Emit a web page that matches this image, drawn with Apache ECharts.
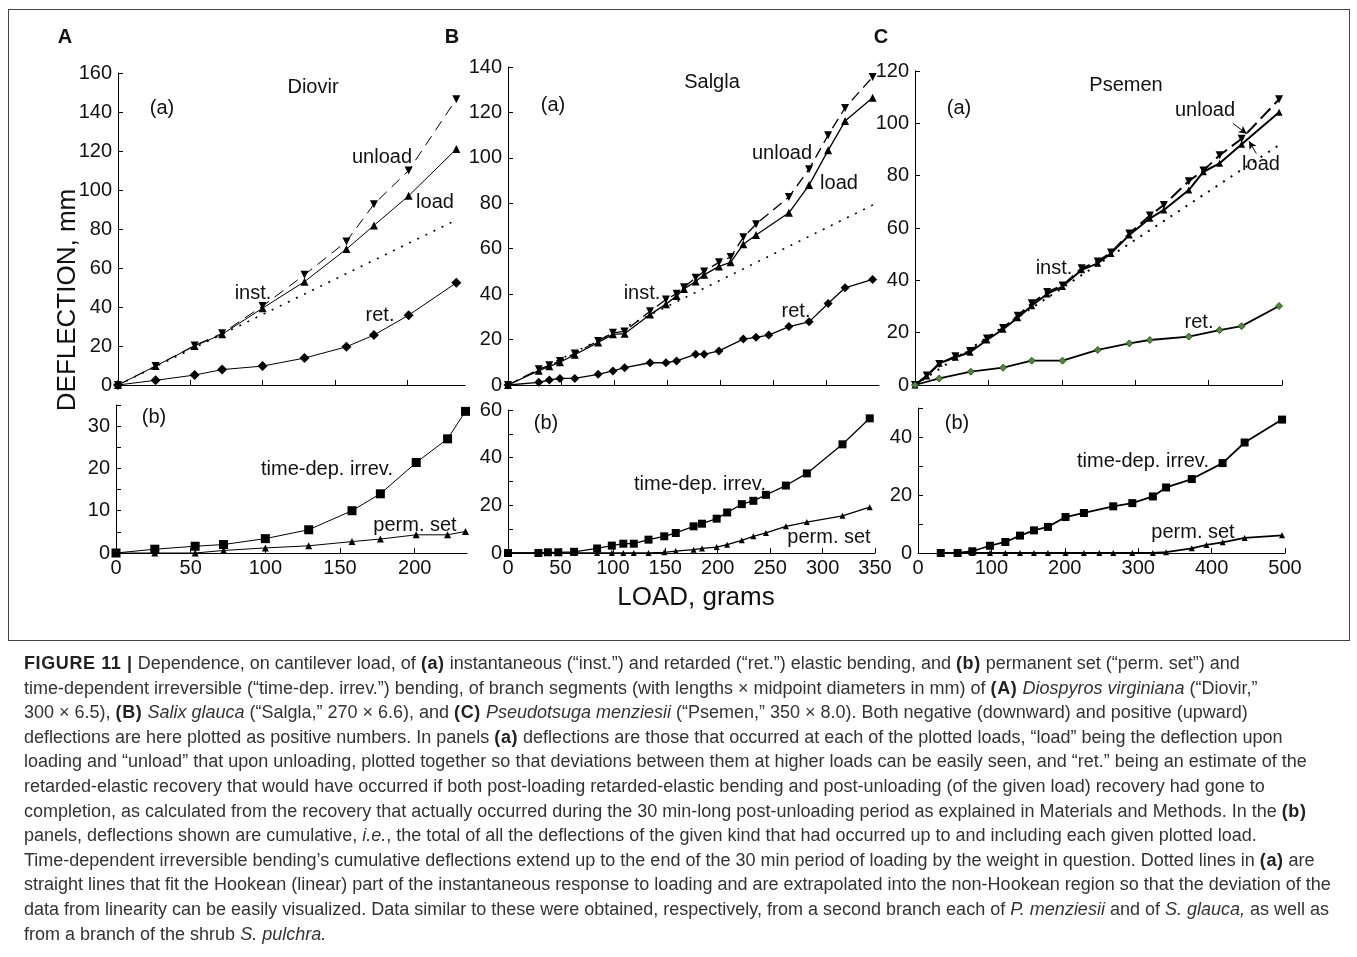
<!DOCTYPE html>
<html>
<head>
<meta charset="utf-8">
<script src="https://cdn.jsdelivr.net/npm/echarts@6/dist/echarts.min.js"></script>
<style>
  html, body { margin: 0; padding: 0; background: #fff; }
  #wrap { position: relative; width: 1357px; height: 957px; }
  #chart { position: absolute; left: 0; top: 0; width: 1357px; height: 957px; }
  #frame { position: absolute; left: 8px; top: 9px; width: 1340px; height: 630px; border: 1px solid #444; }
  #caption {
    position: absolute; left: 24px; top: 651px;
    font-family: "Liberation Sans", Arial, sans-serif; font-size: 18px; line-height: 24.6px;
    color: #333; white-space: nowrap;
  }
  #caption b { color: #222; letter-spacing: 0.6px; }
</style>
</head>
<body>
<div id="wrap">
  <div id="frame"></div>
  <div id="chart"></div>
  <div id="caption">
    <b>FIGURE 11 |</b> Dependence, on cantilever load, of <b>(a)</b> instantaneous (“inst.”) and retarded (“ret.”) elastic bending, and <b>(b)</b> permanent set (“perm. set”) and<br>
    time-dependent irreversible (“time-dep. irrev.”) bending, of branch segments (with lengths × midpoint diameters in mm) of <b>(A)</b> <i>Diospyros virginiana</i> (“Diovir,”<br>
    300 × 6.5), <b>(B)</b> <i>Salix glauca</i> (“Salgla,” 270 × 6.6), and <b>(C)</b> <i>Pseudotsuga menziesii</i> (“Psemen,” 350 × 8.0). Both negative (downward) and positive (upward)<br>
    deflections are here plotted as positive numbers. In panels <b>(a)</b> deflections are those that occurred at each of the plotted loads, “load” being the deflection upon<br>
    loading and “unload” that upon unloading, plotted together so that deviations between them at higher loads can be easily seen, and “ret.” being an estimate of the<br>
    retarded-elastic recovery that would have occurred if both post-loading retarded-elastic bending and post-unloading (of the given load) recovery had gone to<br>
    completion, as calculated from the recovery that actually occurred during the 30 min-long post-unloading period as explained in Materials and Methods. In the <b>(b)</b><br>
    panels, deflections shown are cumulative, <i>i.e.</i>, the total of all the deflections of the given kind that had occurred up to and including each given plotted load.<br>
    Time-dependent irreversible bending’s cumulative deflections extend up to the end of the 30 min period of loading by the weight in question. Dotted lines in <b>(a)</b> are<br>
    straight lines that fit the Hookean (linear) part of the instantaneous response to loading and are extrapolated into the non-Hookean region so that the deviation of the<br>
    data from linearity can be easily visualized. Data similar to these were obtained, respectively, from a second branch each of <i>P. menziesii</i> and of <i>S. glauca,</i> as well as<br>
    from a branch of the shrub <i>S. pulchra.</i>
  </div>
</div>
<script>
// ---- A: Diovir ----
const aLoads = [0, 26, 53, 72, 100, 129, 158, 177, 201, 234];
const aLoad = [0, 9.7, 20, 26, 39.4, 53, 69.7, 81.8, 97, 121];
const aUnload = [0, 9.7, 20.3, 26.5, 40.5, 56.5, 73.6, 92.7, 110, 146.6];
const aRet = [0, 2.4, 5.1, 7.9, 9.7, 13.8, 19.6, 25.6, 35.8, 52.4];
const aFitX = [0, 234];
const aFitY = [0, 84.6];
const aBotLoads = [0, 26, 53, 72, 100, 129, 158, 177, 201, 222, 234];
const aIrrev = [0, 0.9, 1.6, 2.0, 3.4, 5.5, 10, 14, 21.4, 27, 33.5];
const aPerm = [0, 0, 0, 0.6, 1.2, 1.7, 2.7, 3.3, 4.3, 4.3, 5.1];

// ---- B: Salgla ----
const bLoads = [0, 29, 39, 49, 63, 85, 99, 110, 134, 149, 159, 166, 177, 185, 199, 210, 222, 234, 265, 284, 302, 318, 344];
const bLoad = [0, 6.3, 8.2, 10, 13.3, 18.7, 22.3, 22.6, 31, 35.6, 39.2, 42.3, 45.6, 48.5, 52.2, 54, 62, 66, 75.8, 88, 103.3, 116.2, 126.5];
const bUnload = [0, 6.9, 8.7, 10.6, 13.9, 19.4, 23, 23.6, 32.5, 37.6, 40.2, 43, 47.2, 50, 54, 56.3, 65, 70.8, 82.8, 95, 110, 122, 135.6];
const bRetLoads = [0, 29, 39, 49, 63, 85, 99, 110, 134, 149, 159, 177, 185, 199, 222, 234, 246, 265, 284, 302, 318, 344];
const bRet = [0, 1.2, 2.2, 2.9, 2.9, 4.7, 6.2, 7.6, 9.8, 9.8, 10.6, 13.5, 13.5, 15, 20.2, 21, 22, 25.7, 27.8, 35.9, 42.8, 46.5];
const bFitX = [0, 350];
const bFitY = [0, 80.6];
const bBotLoads = [0, 29, 38, 48, 63, 85, 99, 110, 120, 134, 149, 160, 177, 185, 199, 209, 223, 234, 246, 265, 285, 319, 345];
const bIrrev = [0, 0, 0.3, 0.3, 0.5, 1.9, 3.1, 3.9, 3.9, 5.6, 7, 8.4, 11.2, 12.3, 14.4, 17, 20.5, 21.9, 24.4, 28.3, 33.4, 45.6, 56.5];
const bPerm = [0, 0, 0, 0, 0, 0, 0, 0, 0, 0, 0.3, 0.8, 1.4, 1.9, 2.5, 3.5, 5.3, 7, 8.4, 11.2, 13, 15.6, 19.2];

// ---- C: Psemen ----
const cLoads = [0, 16, 33, 55, 75, 98, 120, 140, 159, 180, 201, 227, 249, 267, 292, 320, 339, 373, 393, 415, 445, 496];
const cLoad = [0, 3.4, 8.3, 10.6, 12.5, 17.2, 21.3, 25.7, 30.3, 34.8, 37.6, 44, 46.5, 50.3, 57.3, 63.7, 66.9, 74.5, 81.5, 84.7, 92, 104.2];
const cUnload = [0, 3.6, 8, 11, 13, 17.8, 21.8, 26.5, 31.2, 35.5, 38, 44.6, 47.2, 50.6, 57.9, 64.8, 68.8, 77.9, 82, 87.8, 94.1, 109.2];
const cRetLoads = [0, 33, 76, 120, 159, 201, 249, 292, 320, 373, 415, 445, 496];
const cRet = [0, 2.5, 5.1, 6.6, 9.3, 9.3, 13.4, 15.9, 17.2, 18.5, 21, 22.5, 30.2];
const cFitX = [0, 496];
const cFitY = [0, 91.7];
const cBotLoads = [31, 54, 74, 98, 119, 139, 158, 177, 201, 226, 266, 292, 320, 338, 373, 415, 445, 496];
const cIrrev = [0, 0, 0.6, 2.5, 3.8, 6, 7.8, 9, 12.4, 13.8, 16.1, 17.2, 19.5, 22.6, 25.5, 31, 38.1, 46];
const cPermLoads = [31, 54, 74, 98, 119, 139, 158, 177, 201, 226, 247, 266, 292, 320, 338, 373, 393, 415, 445, 496];
const cPerm = [0, 0, 0, 0, 0, 0, 0, 0, 0, 0, 0, 0, 0, 0, 0.3, 1.6, 2.8, 3.7, 5.2, 6.1];
// arrows pointing from "unload"/"load" labels to the curves (data coords)
const cArrows = [[[433, 100], [452, 96]], [[465, 88.5], [455, 93.2]]];

const FONT = '"Liberation Sans", Arial, sans-serif';

function zip(xs, ys) {
  return xs.map((x, i) => [x, ys[i]]);
}

function line(idx, xs, ys, o) {
  return {
    type: 'line',
    xAxisIndex: idx,
    yAxisIndex: idx,
    data: zip(xs, ys),
    symbol: o.symbol || 'none',
    showSymbol: !!o.symbol,
    symbolSize: o.size || 8,
    symbolRotate: o.rotate || 0,
    itemStyle: o.item || { color: '#000' },
    lineStyle: { color: '#000', width: o.width || 1, type: o.dash || 'solid' },
    z: o.z || 2,
    silent: true
  };
}

// x axes: top panels have no labels, bottom panels have labels
function xAxis(idx, max, ticks, labels) {
  return {
    type: 'value', gridIndex: idx, min: 0, max: max,
    axisLine: { lineStyle: { color: '#000', width: 1 } },
    axisTick: { inside: true, length: 5, customValues: ticks, lineStyle: { color: '#000' } },
    axisLabel: labels
      ? { customValues: ticks, fontSize: 20, color: '#111', fontFamily: FONT, margin: 5 }
      : { show: false },
    splitLine: { show: false }
  };
}

function yAxis(idx, max, ticks, labels) {
  return {
    type: 'value', gridIndex: idx, min: 0, max: max,
    axisLine: { show: true, lineStyle: { color: '#000', width: 1 } },
    axisTick: { show: true, inside: true, length: 5, customValues: ticks, lineStyle: { color: '#000' } },
    axisLabel: { customValues: labels, fontSize: 20, color: '#111', fontFamily: FONT, margin: 6 },
    splitLine: { show: false }
  };
}

function txt(t, x, y, size, weight) {
  return {
    type: 'text', x: x, y: y, silent: true,
    style: { text: t, font: (weight || 'normal') + ' ' + (size || 20) + 'px ' + FONT, fill: '#111', align: 'center', verticalAlign: 'middle' }
  };
}

const chart = echarts.init(document.getElementById('chart'));

const option = {
  animation: false,
  grid: [
    { left: 118, top: 73, width: 347, height: 312 },
    { left: 116, top: 405, width: 351, height: 148 },
    { left: 508, top: 67, width: 371, height: 318 },
    { left: 508, top: 410, width: 367, height: 143 },
    { left: 915, top: 71, width: 367, height: 314 },
    { left: 918, top: 408, width: 367, height: 145 }
  ],
  xAxis: [
    xAxis(0, 240, [50, 100, 150, 200], false),
    xAxis(1, 235, [0, 50, 100, 150, 200], true),
    xAxis(2, 350, [50, 100, 150, 200, 250, 300], false),
    xAxis(3, 350, [0, 50, 100, 150, 200, 250, 300, 350], true),
    xAxis(4, 500, [100, 200, 300, 400, 500], false),
    xAxis(5, 500, [0, 100, 200, 300, 400, 500], true)
  ],
  yAxis: [
    yAxis(0, 160, [0, 20, 40, 60, 80, 100, 120, 140, 160], [0, 20, 40, 60, 80, 100, 120, 140, 160]),
    yAxis(1, 35, [0, 5, 10, 15, 20, 25, 30, 35], [0, 10, 20, 30]),
    yAxis(2, 140, [0, 20, 40, 60, 80, 100, 120, 140], [0, 20, 40, 60, 80, 100, 120, 140]),
    yAxis(3, 60, [0, 10, 20, 30, 40, 50, 60], [0, 20, 40, 60]),
    yAxis(4, 120, [0, 20, 40, 60, 80, 100, 120], [0, 20, 40, 60, 80, 100, 120]),
    yAxis(5, 50, [0, 10, 20, 30, 40, 50], [0, 20, 40])
  ],
  series: [
    // A
    line(0, aFitX, aFitY, { dash: [2, 7], width: 1.6 }),
    line(0, aLoads, aUnload, { symbol: 'triangle', rotate: 180, size: 8, dash: [11, 7] }),
    line(0, aLoads, aLoad, { symbol: 'triangle', size: 8 }),
    line(0, aLoads, aRet, { symbol: 'diamond', size: 10 }),
    line(1, aBotLoads, aPerm, { symbol: 'triangle', size: 7 }),
    line(1, aBotLoads, aIrrev, { symbol: 'rect', size: 9 }),
    // B
    line(2, bFitX, bFitY, { dash: [2, 7], width: 1.6 }),
    line(2, bLoads, bUnload, { symbol: 'triangle', rotate: 180, size: 8, dash: [11, 6], width: 1.3 }),
    line(2, bLoads, bLoad, { symbol: 'triangle', size: 8, width: 1.3 }),
    line(2, bRetLoads, bRet, { symbol: 'diamond', size: 9, width: 1.3 }),
    line(3, bBotLoads, bPerm, { symbol: 'triangle', size: 6, width: 1.3 }),
    line(3, bBotLoads, bIrrev, { symbol: 'rect', size: 8, width: 1.3 }),
    // C
    line(4, cFitX, cFitY, { dash: [2, 7], width: 2 }),
    Object.assign(line(4, cLoads, cUnload, { symbol: 'triangle', rotate: 180, size: 8, dash: [14, 6], width: 2 }), {
      markLine: {
        silent: true, symbol: ['none', 'arrow'], symbolSize: [6, 8], animation: false,
        label: { show: false },
        lineStyle: { color: '#000', width: 1, type: 'solid' },
        data: cArrows.map(a => [{ coord: a[0] }, { coord: a[1] }])
      }
    }),
    line(4, cLoads, cLoad, { symbol: 'triangle', size: 7, width: 2 }),
    line(4, cRetLoads, cRet, { symbol: 'diamond', size: 7, width: 1.8, item: { color: '#4f8a35', borderColor: '#1f3d12', borderWidth: 0.8 } }),
    line(5, cPermLoads, cPerm, { symbol: 'triangle', size: 6, width: 1.8 }),
    line(5, cBotLoads, cIrrev, { symbol: 'rect', size: 8, width: 1.8 })
  ],
  graphic: [
    txt('A', 65, 37, 20, 'bold'),
    txt('B', 452, 37, 20, 'bold'),
    txt('C', 881, 37, 20, 'bold'),
    { type: 'text', x: 68, y: 300, rotation: Math.PI / 2, silent: true,
      style: { text: 'DEFLECTION, mm', font: '26px ' + FONT, fill: '#111', align: 'center', verticalAlign: 'middle' } },
    txt('LOAD, grams', 696, 598, 26),
    // A labels
    txt('Diovir', 313, 87), txt('(a)', 162, 108), txt('unload', 382, 157), txt('load', 435, 202),
    txt('inst.', 253, 293), txt('ret.', 380, 315),
    txt('(b)', 154, 417), txt('time-dep. irrev.', 327, 469), txt('perm. set', 415, 525),
    // B labels
    txt('Salgla', 712, 82), txt('(a)', 553, 105), txt('unload', 782, 153), txt('load', 839, 183),
    txt('inst.', 642, 293), txt('ret.', 796, 311),
    txt('(b)', 546, 423), txt('time-dep. irrev.', 700, 484), txt('perm. set', 829, 537),
    // C labels
    txt('Psemen', 1126, 85), txt('(a)', 959, 108), txt('unload', 1205, 110), txt('load', 1261, 164),
    txt('inst.', 1054, 268), txt('ret.', 1199, 322),
    txt('(b)', 957, 423), txt('time-dep. irrev.', 1143, 461), txt('perm. set', 1193, 532)
  ]
};

chart.setOption(option);
</script>
</body>
</html>
